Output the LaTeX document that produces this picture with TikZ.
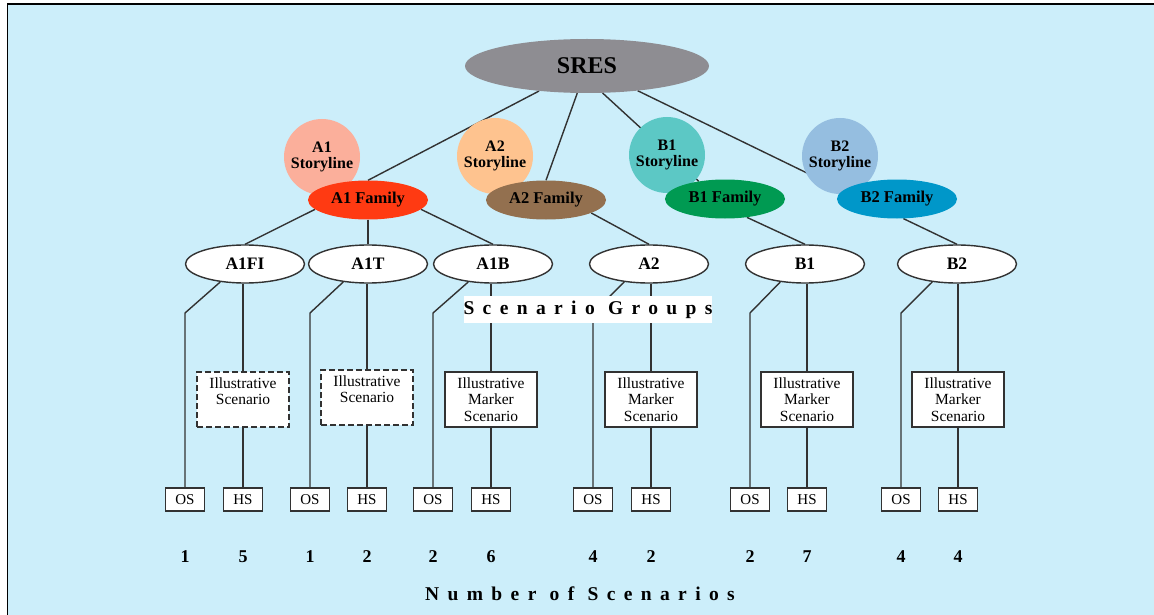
\documentclass[tikz,border=0pt]{standalone}
\usepackage{fontspec}
\setmainfont{Liberation Serif}
\newfontfamily\spacedfont[LetterSpace=43]{Liberation Serif}
\usetikzlibrary{shapes.geometric}
\pgfdeclarelayer{background}
\pgfsetlayers{background,main}
\definecolor{bgblue}{RGB}{204,238,250}
\definecolor{sresgray}{RGB}{142,141,146}
\definecolor{aonestory}{RGB}{251,175,155}
\definecolor{aonefam}{RGB}{255,58,18}
\definecolor{atwostory}{RGB}{254,195,143}
\definecolor{atwofam}{RGB}{147,112,79}
\definecolor{bonestory}{RGB}{92,200,197}
\definecolor{bonefam}{RGB}{0,154,82}
\definecolor{btwostory}{RGB}{149,190,224}
\definecolor{btwofam}{RGB}{0,151,201}
\definecolor{linegray}{RGB}{50,50,50}
\begin{document}
\begin{tikzpicture}[x=1pt,y=-1pt,
  conn/.style={draw=linegray, line width=1.4pt},
  sresnode/.style={ellipse, fill=sresgray, minimum width=244pt, minimum height=54pt, inner sep=0pt, font=\fontsize{24}{24}\selectfont\bfseries},
  storyline/.style={circle, minimum size=76pt, inner sep=0pt, align=center, font=\fontsize{16}{16}\selectfont\bfseries},
  family/.style={ellipse, minimum width=120pt, minimum height=39pt, inner sep=0pt, font=\fontsize{16.5}{16.5}\selectfont\bfseries},
  group/.style={ellipse, draw=linegray, line width=1.4pt, fill=white, minimum width=119pt, minimum height=38pt, inner sep=0pt, font=\fontsize{17.5}{17.5}\selectfont\bfseries},
  illus/.style={rectangle, draw=linegray, line width=1.4pt, fill=white, minimum width=92pt, minimum height=55pt, inner sep=0pt, align=center, font=\fontsize{15.5}{16.5}\selectfont},
  dashillus/.style={illus, dash pattern=on 6pt off 3pt},
  leaf/.style={rectangle, draw=linegray, line width=1.4pt, fill=white, minimum width=39pt, minimum height=23pt, inner sep=0pt, font=\fontsize{15}{15}\selectfont},
  count/.style={font=\fontsize{18}{18}\selectfont\bfseries},
  spaced/.style={inner sep=0pt, font=\fontsize{19.5}{19.5}\spacedfont\bfseries}
]
\useasboundingbox (0,0) rectangle (1154,615);

% top level
\node[sresnode] (SRES) at (587,66) {SRES};

% storylines
\node[storyline, fill=aonestory] (A1S) at (322,157) {A1\\Storyline};
\node[storyline, fill=atwostory] (A2S) at (495,156) {A2\\Storyline};
\node[storyline, fill=bonestory] (B1S) at (667,155) {B1\\Storyline};
\node[storyline, fill=btwostory] (B2S) at (840,156) {B2\\Storyline};

% families
\node[family, fill=aonefam] (A1F) at (368,200) {A1 Family};
\node[family, fill=atwofam] (A2F) at (546,200) {A2 Family};
\node[family, fill=bonefam] (B1F) at (725,199) {B1 Family};
\node[family, fill=btwofam] (B2F) at (897,199) {B2 Family};

% scenario groups
\node[group] (G1) at (245,264) {A1FI};
\node[group] (G2) at (368,264) {A1T};
\node[group] (G3) at (493,264) {A1B};
\node[group] (G4) at (649,264) {A2};
\node[group] (G5) at (805,264) {B1};
\node[group] (G6) at (957,264) {B2};

\node[spaced, fill=white, minimum width=244pt, minimum height=27pt] (SG) at (588,309.5) {Scenario Groups};

% illustrative boxes
\node[dashillus] (I1) at (243,399.5) {Illustrative\\Scenario\\~};
\node[dashillus] (I2) at (367,397.5) {Illustrative\\Scenario\\~};
\node[illus] (I3) at (491,399.5) {Illustrative\\Marker\\Scenario};
\node[illus] (I4) at (651,399.5) {Illustrative\\Marker\\Scenario};
\node[illus] (I5) at (807,399.5) {Illustrative\\Marker\\Scenario};
\node[illus] (I6) at (958,399.5) {Illustrative\\Marker\\Scenario};

% OS / HS
\node[leaf] (O1) at (185,499.5) {OS};
\node[leaf] (H1) at (243,499.5) {HS};
\node[leaf] (O2) at (310,499.5) {OS};
\node[leaf] (H2) at (367,499.5) {HS};
\node[leaf] (O3) at (433,499.5) {OS};
\node[leaf] (H3) at (491,499.5) {HS};
\node[leaf] (O4) at (593,499.5) {OS};
\node[leaf] (H4) at (651,499.5) {HS};
\node[leaf] (O5) at (750,499.5) {OS};
\node[leaf] (H5) at (807,499.5) {HS};
\node[leaf] (O6) at (901,499.5) {OS};
\node[leaf] (H6) at (958,499.5) {HS};

% counts
\node[count] (c1) at (185,557) {1};
\node[count] (c2) at (243,557) {5};
\node[count] (c3) at (310,557) {1};
\node[count] (c4) at (367,557) {2};
\node[count] (c5) at (433,557) {2};
\node[count] (c6) at (491,557) {6};
\node[count] (c7) at (593,557) {4};
\node[count] (c8) at (651,557) {2};
\node[count] (c9) at (750,557) {2};
\node[count] (c10) at (807,557) {7};
\node[count] (c11) at (901,557) {4};
\node[count] (c12) at (958,557) {4};

\node[spaced] (NS) at (580,594) {Number of Scenarios};

\coordinate (bend) at (0,313);

\begin{pgfonlayer}{background}
  \fill[white] (0,0) rectangle (1154,615);
  \fill[bgblue] (7,4) rectangle (1154,615);
  \draw[line width=1.8pt, black] (7.5,615) -- (7.5,4.2) -- (1154,4.2);

  % SRES to families
  \draw[conn] (SRES) -- (A1F.north);
  \draw[conn] (SRES) -- (A2F.north);
  \draw[conn] (SRES.-60) -- (B1F.146);
  \draw[conn] (SRES.-26) -- (B2F.171);

  % families to groups
  \draw[conn] (A1F.190) -- (G1.north);
  \draw[conn] (A1F.south) -- (G2.north);
  \draw[conn] (A1F.-10) -- (G3.north);
  \draw[conn] (A2F.-16) -- (G4.north);
  \draw[conn] (B1F.-40) -- (G5.north);
  \draw[conn] (B2F.-72) -- (G6.north);

  % groups to OS
  \foreach \g/\o in {G1/O1, G2/O2, G3/O3, G4/O4, G5/O5, G6/O6}
    \draw[conn] (\g.216) -- (\o.north |- bend) -- (\o.north);

  % groups to illustrative boxes to HS
  \foreach \g/\i/\h in {G1/I1/H1, G2/I2/H2, G3/I3/H3, G4/I4/H4, G5/I5/H5, G6/I6/H6} {
    \draw[conn] (\g.south -| \i.north) -- (\i.north);
    \draw[conn] (\i.south) -- (\h.north);
  }
\end{pgfonlayer}
\end{tikzpicture}
\end{document}
